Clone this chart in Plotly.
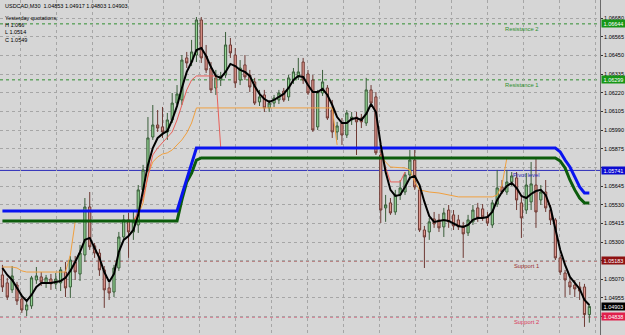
import plotly.graph_objects as go

# ---------------- data (USDCAD M30) ----------------
bar = list(range(122))

open_ = [1.05097,1.05048,1.05005,1.05035,1.04949,1.04881,1.04906,1.05066,1.05085,1.05048,
         1.05072,1.05042,1.05048,1.05115,1.05023,1.05177,1.05103,1.05220,1.05516,1.05276,
         1.05232,1.05128,1.05017,1.04992,1.05140,1.05331,1.05436,1.05362,1.05405,1.05621,
         1.05744,1.05947,1.06021,1.06009,1.05978,1.06052,1.06156,1.06175,1.06434,1.06409,
         1.06452,1.06668,1.06446,1.06372,1.06249,1.06298,1.06329,1.06514,1.06452,1.06298,
         1.06391,1.06329,1.06286,1.06163,1.06206,1.06126,1.06156,1.06175,1.06230,1.06194,
         1.06298,1.06317,1.06409,1.06335,1.06298,1.06009,1.06218,1.06249,1.06113,1.05978,
         1.06033,1.05959,1.06052,1.06070,1.06064,1.06033,1.06237,1.06194,1.05836,1.05510,
         1.05541,1.05485,1.05590,1.05608,1.05713,1.05805,1.05621,1.05374,1.05362,1.05442,
         1.05436,1.05393,1.05497,1.05467,1.05436,1.05399,1.05356,1.05424,1.05510,1.05504,
         1.05454,1.05405,1.05534,1.05639,1.05608,1.05670,1.05695,1.05541,1.05497,1.05547,
         1.05651,1.05559,1.05608,1.05497,1.05436,1.05202,1.05109,1.05054,1.05035,1.05023,
         1.05023,1.04853]
high = [1.05159,1.05079,1.05152,1.05054,1.04968,1.04943,1.05091,1.05146,1.05115,1.05097,
        1.05103,1.05109,1.05146,1.05177,1.05214,1.05214,1.05282,1.05571,1.05608,1.05294,
        1.05257,1.05152,1.05048,1.05159,1.05362,1.05467,1.05479,1.05485,1.05651,1.05775,
        1.06070,1.06144,1.06113,1.06132,1.06095,1.06218,1.06267,1.06452,1.06471,1.06545,
        1.06686,1.06686,1.06514,1.06409,1.06360,1.06348,1.06594,1.06557,1.06495,1.06421,
        1.06452,1.06360,1.06311,1.06237,1.06237,1.06175,1.06206,1.06237,1.06249,1.06329,
        1.06372,1.06434,1.06434,1.06360,1.06329,1.06237,1.06360,1.06267,1.06175,1.06040,
        1.06064,1.06113,1.06101,1.06101,1.06089,1.06311,1.06267,1.06224,1.05867,1.05590,
        1.05571,1.05621,1.05682,1.05731,1.05867,1.05867,1.05651,1.05399,1.05448,1.05485,
        1.05473,1.05510,1.05528,1.05497,1.05467,1.05424,1.05467,1.05528,1.05541,1.05534,
        1.05485,1.05559,1.05744,1.05682,1.05744,1.05731,1.05731,1.05590,1.05725,1.05793,
        1.05818,1.05651,1.05682,1.05528,1.05448,1.05220,1.05128,1.05079,1.05066,1.05054,
        1.05042,1.04917]
low = [1.04992,1.04943,1.04986,1.04912,1.04863,1.04844,1.04888,1.05042,1.05029,1.05017,
       1.05005,1.05011,1.04998,1.04961,1.04955,1.05066,1.05060,1.05177,1.05251,1.05202,
       1.05091,1.04894,1.04943,1.04961,1.05122,1.05313,1.05202,1.05313,1.05356,1.05590,
       1.05731,1.05929,1.05978,1.05941,1.05929,1.06033,1.06132,1.06144,1.06372,1.06384,
       1.06409,1.06403,1.06341,1.06218,1.06206,1.06261,1.06311,1.06434,1.06249,1.06267,
       1.06298,1.06224,1.06144,1.06138,1.06101,1.06101,1.06132,1.06150,1.06163,1.06169,
       1.06274,1.06298,1.06274,1.06206,1.05978,1.05990,1.06200,1.06052,1.05941,1.05929,
       1.05898,1.05941,1.06021,1.05836,1.06002,1.06015,1.06138,1.05836,1.05417,1.05424,
       1.05467,1.05467,1.05559,1.05590,1.05682,1.05621,1.05362,1.05140,1.05313,1.05387,
       1.05362,1.05331,1.05387,1.05374,1.05374,1.05202,1.05337,1.05405,1.05424,1.05430,
       1.05399,1.05387,1.05516,1.05596,1.05590,1.05645,1.05497,1.05325,1.05473,1.05497,
       1.05387,1.05528,1.05485,1.05405,1.05189,1.05097,1.04961,1.04974,1.04961,1.04943,
       1.04777,1.04803]
close = [1.05023,1.04961,1.05091,1.04937,1.04881,1.04912,1.05079,1.05091,1.05054,1.05079,
         1.05042,1.05072,1.05128,1.05017,1.05189,1.05115,1.05232,1.05516,1.05270,1.05232,
         1.05128,1.05005,1.04986,1.05140,1.05331,1.05436,1.05362,1.05424,1.05621,1.05744,
         1.05941,1.06021,1.06002,1.05978,1.06052,1.06156,1.06212,1.06421,1.06403,1.06471,
         1.06668,1.06434,1.06360,1.06237,1.06311,1.06323,1.06514,1.06465,1.06280,1.06372,
         1.06317,1.06255,1.06156,1.06194,1.06126,1.06156,1.06187,1.06218,1.06175,1.06311,
         1.06348,1.06348,1.06298,1.06218,1.05990,1.06224,1.06286,1.06064,1.05978,1.06015,
         1.05959,1.06095,1.06070,1.06040,1.06040,1.06237,1.06156,1.05849,1.05497,1.05528,
         1.05479,1.05590,1.05633,1.05713,1.05805,1.05639,1.05374,1.05331,1.05424,1.05411,
         1.05387,1.05479,1.05424,1.05399,1.05393,1.05350,1.05436,1.05497,1.05448,1.05454,
         1.05417,1.05541,1.05633,1.05608,1.05670,1.05707,1.05559,1.05448,1.05651,1.05658,
         1.05485,1.05608,1.05510,1.05436,1.05202,1.05115,1.05066,1.05023,1.05011,1.04998,
         1.04853,1.04903]
ma = [1.05140,1.05097,1.05066,1.05017,1.04968,1.04937,1.04974,1.05023,1.05048,1.05048,
      1.05048,1.05054,1.05060,1.05079,1.05122,1.05177,1.05239,1.05313,1.05325,1.05263,
      1.05202,1.05115,1.05054,1.05103,1.05239,1.05313,1.05337,1.05374,1.05467,1.05621,
      1.05775,1.05879,1.05941,1.05966,1.05984,1.06052,1.06138,1.06249,1.06348,1.06409,
      1.06483,1.06495,1.06446,1.06378,1.06323,1.06311,1.06348,1.06397,1.06384,1.06360,
      1.06348,1.06323,1.06261,1.06212,1.06181,1.06163,1.06175,1.06194,1.06212,1.06249,
      1.06298,1.06323,1.06317,1.06267,1.06224,1.06224,1.06243,1.06206,1.06144,1.06070,
      1.06033,1.06033,1.06058,1.06064,1.06052,1.06089,1.06150,1.06101,1.05898,1.05731,
      1.05621,1.05584,1.05590,1.05639,1.05695,1.05707,1.05651,1.05547,1.05460,1.05424,
      1.05430,1.05436,1.05430,1.05417,1.05399,1.05393,1.05405,1.05436,1.05448,1.05448,
      1.05454,1.05485,1.05559,1.05608,1.05645,1.05664,1.05633,1.05584,1.05571,1.05596,
      1.05614,1.05621,1.05590,1.05510,1.05387,1.05251,1.05159,1.05085,1.05048,1.05011,
      1.04943,1.04912]

blue_x = [0, 36, 37, 38, 39, 40, 114, 115, 116, 117, 118, 119, 120, 121]
blue_y = [1.05491, 1.05491, 1.05590, 1.05682, 1.05775, 1.05879, 1.05879, 1.05855,
          1.05805, 1.05762, 1.05701, 1.05639, 1.05602, 1.05602]
green_x = [0, 36, 37, 38, 39, 40, 41, 114, 115, 116, 117, 118, 119, 120, 121]
green_y = [1.05430, 1.05430, 1.05559, 1.05670, 1.05725, 1.05805, 1.05818, 1.05818,
           1.05799, 1.05756, 1.05682, 1.05621, 1.05571, 1.05541, 1.05541]
red_x = [27, 28, 29, 30, 31, 32, 33, 34, 35, 36, 37, 38, 39, 40, 44, 45, None,
         78, 79, 80, 82, 83]
red_y = [1.05430, 1.05485, 1.05571, 1.05695, 1.05836, 1.05879, 1.05910, 1.05941,
         1.05978, 1.06052, 1.06144, 1.06237, 1.06298, 1.06323, 1.06323, 1.05885, None,
         1.05849, 1.05756, 1.05670, 1.05670, 1.05731]
orange_x = [0, 2, 3, 4, 5, 13, 14, 15, None,
            27, 28, 29, 30, 31, 32, 33, 34, 35, 36, 37, 38, 39, 40, 68, 69, None,
            78, 79, 80, 83, 84, 85, 86, 87, 88, 90, 91, 92, 93, 94, 101, 102, 103, 104]
orange_y = [1.05146, 1.05146, 1.05140, 1.05122, 1.05115, 1.05115, 1.05220, 1.05424, None,
            1.05430, 1.05467, 1.05541, 1.05713, 1.05793, 1.05824, 1.05842, 1.05849,
            1.05867, 1.05898, 1.05929, 1.05972, 1.06033, 1.06126, 1.06126, 1.05898, None,
            1.05836, 1.05793, 1.05762, 1.05756, 1.05744, 1.05670, 1.05621, 1.05614,
            1.05608, 1.05602, 1.05596, 1.05590, 1.05584, 1.05578, 1.05578, 1.05590,
            1.05651, 1.05818]

level_names = ["Resistance 2", "Resistance 1", "Pivot level", "Support 1", "Support 2"]
level_values = [1.06644, 1.06299, 1.05741, 1.05183, 1.04838]
level_colors = ["#2f8f2f", "#2f8f2f", "#2a2ab8", "#9a3030", "#d8365a"]
level_box = ["#169616", "#169616", "#0a0ad0", "#8e1111", "#e0204c"]
level_dash = ["dot", "dot", "solid", "dot", "dot"]

tick_labels = ["1.06680", "1.06565", "1.06450", "1.06335", "1.06220", "1.06105",
               "1.05990", "1.05875", "1.05760", "1.05645", "1.05530", "1.05415",
               "1.05300", "1.05185", "1.05070", "1.04955", "1.04840", "1.04725"]
hidden_ticks = ["1.05760", "1.05185", "1.04840"]   # covered by level boxes
tick_vals = [float(t) for t in tick_labels]

symbol = "USDCAD,M30"
yesterday = {"H": "1.066", "L": "1.0514", "C": "1.0549"}
last_price = 1.04903

# ---------------- figure ----------------
W, H = 625, 335
PW = 600
BG = "#d6d6d6"
FONT = "Liberation Sans, Arial, sans-serif"

fig = go.Figure()
fig.add_trace(go.Candlestick(
    x=bar, open=open_, high=high, low=low, close=close,
    increasing=dict(fillcolor="#94d494", line=dict(color="#3a5e3a", width=1)),
    decreasing=dict(fillcolor="#e0968c", line=dict(color="#6e3a34", width=1)),
    whiskerwidth=0, showlegend=False, hoverinfo="skip"))

fig.add_trace(go.Scatter(x=orange_x, y=orange_y, mode="lines",
                         line=dict(color="#f0a040", width=1), showlegend=False, hoverinfo="skip"))
fig.add_trace(go.Scatter(x=red_x, y=red_y, mode="lines",
                         line=dict(color="#e8605a", width=1), showlegend=False, hoverinfo="skip"))
fig.add_trace(go.Scatter(x=green_x, y=green_y, mode="lines",
                         line=dict(color="#0c5c0c", width=3), showlegend=False, hoverinfo="skip"))
fig.add_trace(go.Scatter(x=blue_x, y=blue_y, mode="lines",
                         line=dict(color="#0a14f0", width=3), showlegend=False, hoverinfo="skip"))
fig.add_trace(go.Scatter(x=bar, y=ma, mode="lines",
                         line=dict(color="#000000", width=2), showlegend=False, hoverinfo="skip"))

shapes = []
annotations = []
for name, v, c, bc, d in zip(level_names, level_values, level_colors, level_box, level_dash):
    shapes.append(dict(type="line", xref="paper", x0=0, x1=1, yref="y", y0=v, y1=v,
                       line=dict(color=c, width=1, dash=d), layer="below"))
    annotations.append(dict(xref="paper", x=541 / PW, yref="y", y=v, yshift=-5,
                            text=name, showarrow=False,
                            font=dict(size=5.8, color=c, family=FONT)))
    annotations.append(dict(xref="paper", x=1, xanchor="left", xshift=1, yref="y", y=v,
                            text=f"{v:.5f}", showarrow=False, bgcolor=bc, width=23, height=7,
                            borderpad=0, font=dict(size=5.5, color="white", family=FONT)))

annotations.append(dict(xref="paper", x=1, xanchor="left", xshift=1, yref="y", y=last_price,
                        text=f"{last_price:.5f}", showarrow=False, bgcolor="#000000",
                        width=23, height=7, borderpad=0,
                        font=dict(size=5.5, color="white", family=FONT)))

header = f"{symbol}  {open_[-1]:.5f} {high[-1]:.5f} {low[-1]:.5f} {close[-1]:.5f}"
info_lines = [(header, 5.5), ("Yesterday quotations:", 18.5),
              (f"H {yesterday['H']}", 25.5), (f"L {yesterday['L']}", 32.5),
              (f"C {yesterday['C']}", 39.5)]
for txt, py in info_lines:
    annotations.append(dict(xref="paper", yref="paper", x=3 / PW, y=1 - py / H,
                            xanchor="left", yanchor="middle", text=txt, showarrow=False,
                            font=dict(size=5.5, color="#000000", family=FONT)))

fig.update_layout(
    width=W, height=H,
    margin=dict(l=0, r=W - PW, t=0, b=0),
    paper_bgcolor=BG, plot_bgcolor=BG,
    showlegend=False, hovermode=False,
    boxgap=0.35,
    shapes=shapes, annotations=annotations,
    xaxis=dict(range=[-0.5, 123.2], rangeslider=dict(visible=False), showticklabels=False,
               showgrid=True, gridcolor="#a6a6a6", griddash="dot", gridwidth=1,
               tick0=3.63, dtick=7.42, zeroline=False, showline=False, ticks=""),
    yaxis=dict(side="right", range=[1.04727, 1.06791], tickvals=tick_vals,
               ticktext=["" if t in hidden_ticks else t for t in tick_labels],
               ticks="outside", ticklen=2, tickcolor="#333333",
               tickfont=dict(size=5.5, color="#000000", family=FONT),
               showgrid=True, gridcolor="#a6a6a6", griddash="dot", gridwidth=1,
               showline=True, linecolor="#6a6a6a", linewidth=1, zeroline=False,
               automargin=False),
)

fig.write_html("out.html")
